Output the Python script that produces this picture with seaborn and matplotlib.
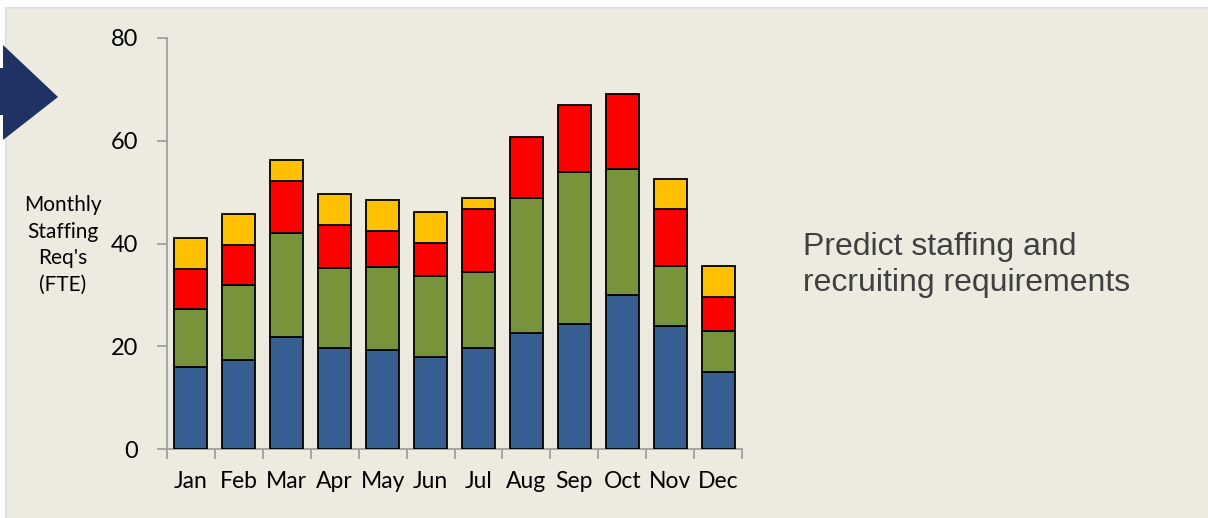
import matplotlib
matplotlib.use("Agg")
import matplotlib.pyplot as plt
from matplotlib.patches import Polygon, Rectangle
from matplotlib.ticker import FixedLocator
import numpy as np
import pandas as pd
import seaborn as sns

months = ["Jan", "Feb", "Mar", "Apr", "May", "Jun",
          "Jul", "Aug", "Sep", "Oct", "Nov", "Dec"]
blue_vals = [16.0, 17.3, 21.8, 19.6, 19.3, 17.9, 19.7, 22.5, 24.3, 30.0, 24.0, 14.9]
green_vals = [11.2, 14.6, 20.2, 15.6, 16.1, 15.8, 14.8, 26.4, 29.6, 24.5, 11.6, 8.1]
red_vals = [7.8, 7.8, 10.1, 8.4, 7.1, 6.4, 12.2, 11.9, 13.0, 14.6, 11.1, 6.6]
yellow_vals = [6.0, 6.1, 4.1, 6.1, 5.9, 6.1, 2.1, 0.0, 0.0, 0.0, 5.9, 6.0]

y_ticks = [0, 20, 40, 60, 80]
y_label = "Monthly\nStaffing\nReq's\n(FTE)"
side_text = "Predict staffing and\nrecruiting requirements"

bg = "#EDEBE0"
colors = ["#376092", "#77933C", "#FF0000", "#FFC000"]

sns.set_style("white")
plt.rcParams["font.family"] = ["Lato", "DejaVu Sans"]

fig = plt.figure(figsize=(12.08, 5.18), dpi=100)
fig.patch.set_facecolor("white")
W, H = 1208, 518

# beige panel with a thin grey frame line on top / left
fig.add_artist(Rectangle((7 / W, 0), 1 - 7 / W, 1 - 9 / H,
                         transform=fig.transFigure, facecolor=bg,
                         edgecolor="none", zorder=-2))
fig.add_artist(Rectangle((5 / W, 0), 2 / W, 1 - 7 / H,
                         transform=fig.transFigure, facecolor="#E0E0E0",
                         edgecolor="none", zorder=-1))
fig.add_artist(Rectangle((5 / W, 1 - 9 / H), 1, 2 / H,
                         transform=fig.transFigure, facecolor="#E0E0E0",
                         edgecolor="none", zorder=-1))

# navy arrow on the left edge
arrow_pts = [(0, 68), (3, 68), (3, 45), (58, 97), (3, 140), (3, 115), (0, 115)]
fig.add_artist(Polygon([(x / W, 1 - y / H) for x, y in arrow_pts],
                       closed=True, transform=fig.transFigure,
                       facecolor="#1F3263", edgecolor="none", zorder=1))

ax = fig.add_axes([167 / W, 1 - 449 / H, 575 / W, 411 / H])
ax.set_facecolor(bg)

df = pd.DataFrame({"month": months, "blue": blue_vals, "green": green_vals,
                   "red": red_vals, "yellow": yellow_vals})
bottom = np.zeros(len(months))
for col, c in zip(["blue", "green", "red", "yellow"], colors):
    vals = df[col].to_numpy()
    mask = vals > 0
    sns.barplot(x=df["month"][mask], y=vals[mask], bottom=bottom[mask],
                order=months, color=c, width=0.69, edgecolor="black",
                linewidth=1.3, saturation=1, ax=ax, zorder=3)
    bottom = bottom + vals

ax.set_xlim(-0.5, len(months) - 0.5)
ax.set_ylim(0, 80)
ax.set_yticks(y_ticks)
ax.set_xlabel("")
ax.set_ylabel("")

for side in ["top", "right"]:
    ax.spines[side].set_visible(False)
for side in ["left", "bottom"]:
    ax.spines[side].set_color("#A0A0A0")
    ax.spines[side].set_linewidth(1.3)

ax.tick_params(axis="y", which="major", direction="out", length=7, width=1.3,
               color="#A0A0A0", labelsize=17, labelcolor="black", pad=14, left=True)
ax.tick_params(axis="x", which="major", length=0, labelsize=16.5,
               labelcolor="black", pad=16)
ax.xaxis.set_minor_locator(FixedLocator(np.arange(-0.5, len(months), 1.0)))
ax.tick_params(axis="x", which="minor", direction="out", length=7, width=1.3,
               color="#A0A0A0", bottom=True)

fig.text(63 / W, 1 - 245 / H, y_label, ha="center", va="center",
         fontsize=15, linespacing=1.42, color="black")

fig.text(803 / W, 1 - 265 / H, side_text, ha="left", va="center",
         fontsize=23, linespacing=1.3, color="#404040",
         family=["Liberation Sans", "DejaVu Sans"])

fig.savefig("out.png", dpi=100, facecolor=fig.get_facecolor())
